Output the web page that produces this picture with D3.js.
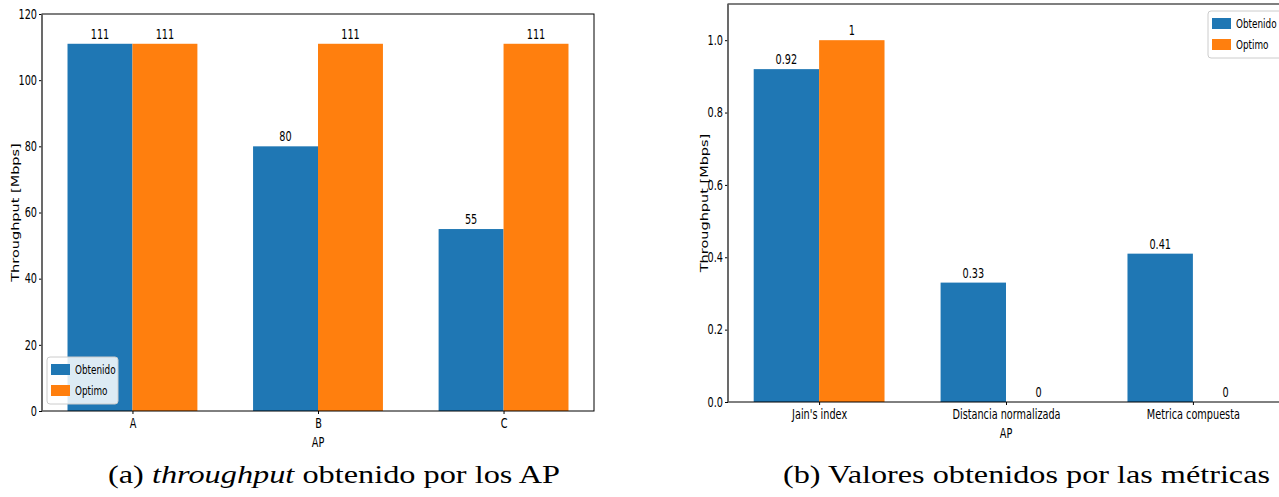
<!DOCTYPE html>
<html>
<head>
<meta charset="utf-8">
<script src="https://cdn.jsdelivr.net/npm/d3@7"></script>
<style>
  html, body { margin: 0; padding: 0; background: #fff; }
  svg { display: block; }
</style>
</head>
<body>
<svg id="chart" width="1279" height="497"></svg>
<script>
// ---------- data ----------
const apCategories = ["A", "B", "C"];
const apObtenido = [111, 80, 55];
const apOptimo = [111, 111, 111];
const apTicks = [0, 20, 40, 60, 80, 100, 120];

const metricCategories = ["Jain's index", "Distancia normalizada", "Metrica compuesta"];
const metricObtenido = [0.92, 0.33, 0.41];
const metricOptimo = [1, 0, 0];
const metricTicks = [0.0, 0.2, 0.4, 0.6, 0.8, 1.0];

const seriesNames = ["Obtenido", "Optimo"];
const seriesColors = ["#1f77b4", "#ff7f0e"];
const yLabel = "Throughput [Mbps]";
const xLabel = "AP";
const captionA = ["(a) ", "throughput", " obtenido por los AP"];
const captionB = "(b) Valores obtenidos por las métricas";

// ---------- drawing ----------
const SX = 0.72;        // horizontal compression of the embedded figures
const FONT = "DejaVu Sans";
const FS = 13.5;
const svg = d3.select("#chart");

function ctext(g, x, y, s, anchor, size, rot) {
  return g.append("text")
    .attr("transform", `translate(${x},${y}) scale(${SX},1)` + (rot ? ` rotate(${rot})` : ""))
    .attr("text-anchor", anchor || "middle")
    .attr("font-family", FONT)
    .attr("font-size", size || FS)
    .attr("fill", "#000")
    .text(s);
}

function panel(opt) {
  const g = svg.append("g");
  const x = d3.scaleLinear().domain([-0.4875, opt.cats.length - 1 + 0.4875]).range([opt.left, opt.right]);
  const y = d3.scaleLinear().domain([0, opt.ymax]).range([opt.bottom, opt.top]);
  const bw = 0.35;
  const series = [opt.s1, opt.s2];

  series.forEach((vals, si) => {
    g.selectAll(null).data(vals).enter().append("rect")
      .attr("x", (d, i) => x(i + (si === 0 ? -bw : 0)))
      .attr("width", x(bw) - x(0))
      .attr("y", d => y(d))
      .attr("height", d => y(0) - y(d))
      .attr("fill", seriesColors[si]);
    vals.forEach((d, i) => {
      ctext(g, x(i + (si === 0 ? -bw / 2 : bw / 2)), y(d) - 5, String(d), "middle", FS);
    });
  });

  // axes
  const ya = d3.axisLeft(y).tickValues(opt.ticks).tickFormat(opt.fmt).tickSize(3).tickPadding(2);
  const yg = g.append("g").attr("transform", `translate(${opt.left},0)`).call(ya);
  const xa = d3.axisBottom(x)
    .tickValues(opt.cats.map((c, i) => i)).tickFormat(i => opt.cats[i]).tickSize(3).tickPadding(4);
  const xg = g.append("g").attr("transform", `translate(0,${opt.bottom})`).call(xa);
  [yg, xg].forEach(ax => {
    ax.select(".domain").remove();
    ax.selectAll("line").attr("stroke", "#000").attr("stroke-width", 1);
    ax.selectAll("text").attr("font-family", FONT).attr("font-size", FS).attr("fill", "#000");
  });
  yg.selectAll("text").each(function () {
    const t = d3.select(this);
    const xx = +t.attr("x");
    t.attr("x", xx / SX).attr("transform", `scale(${SX},1)`);
  });
  xg.selectAll("text").attr("transform", `scale(${SX},1)`);

  // frame
  g.append("rect").attr("x", opt.left).attr("y", opt.top)
    .attr("width", opt.right - opt.left).attr("height", opt.bottom - opt.top)
    .attr("fill", "none").attr("stroke", "#000").attr("stroke-width", 1);
  g.append("line").attr("x1", opt.left).attr("x2", opt.left).attr("y1", opt.top).attr("y2", opt.bottom)
    .attr("stroke", "#666").attr("stroke-width", 1.6);

  // labels
  ctext(g, x(1), opt.xlabY, xLabel, "middle", FS);
  ctext(g, opt.ylabX, (opt.top + opt.bottom) / 2, yLabel, "middle", 14.5, -90);

  // legend
  const L = opt.legend;
  g.append("rect").attr("x", L.x).attr("y", L.y).attr("width", L.w).attr("height", 47)
    .attr("rx", 3).attr("fill", "#fff").attr("fill-opacity", 0.85)
    .attr("stroke", "#cccccc").attr("stroke-width", 1);
  seriesNames.forEach((n, i) => {
    g.append("rect").attr("x", L.x + 4).attr("y", L.y + 7 + i * 21)
      .attr("width", 19).attr("height", 11).attr("fill", seriesColors[i]);
    ctext(g, L.x + 28, L.y + 17 + i * 21, n, "start", 12.3);
  });
}

panel({
  cats: apCategories, s1: apObtenido, s2: apOptimo, ticks: apTicks, fmt: d3.format("d"),
  ymax: 120, left: 42, right: 594, top: 14, bottom: 411,
  xlabY: 447, ylabX: 19, legend: { x: 47, y: 357, w: 71 }
});
panel({
  cats: metricCategories, s1: metricObtenido, s2: metricOptimo, ticks: metricTicks, fmt: d3.format(".1f"),
  ymax: 1.1, left: 728, right: 1284, top: 4, bottom: 402,
  xlabY: 438, ylabX: 708, legend: { x: 1208, y: 11, w: 74 }
});

// captions
const capA = svg.append("text").attr("x", 108).attr("y", 483)
  .attr("textLength", 452).attr("lengthAdjust", "spacingAndGlyphs")
  .attr("font-family", "Liberation Serif").attr("font-size", 26).attr("fill", "#000");
capA.append("tspan").text(captionA[0]);
capA.append("tspan").attr("font-style", "italic").text(captionA[1]);
capA.append("tspan").text(captionA[2]);
svg.append("text").attr("x", 783).attr("y", 483)
  .attr("textLength", 487).attr("lengthAdjust", "spacingAndGlyphs")
  .attr("font-family", "Liberation Serif").attr("font-size", 26).attr("fill", "#000")
  .text(captionB);
</script>
</body>
</html>
